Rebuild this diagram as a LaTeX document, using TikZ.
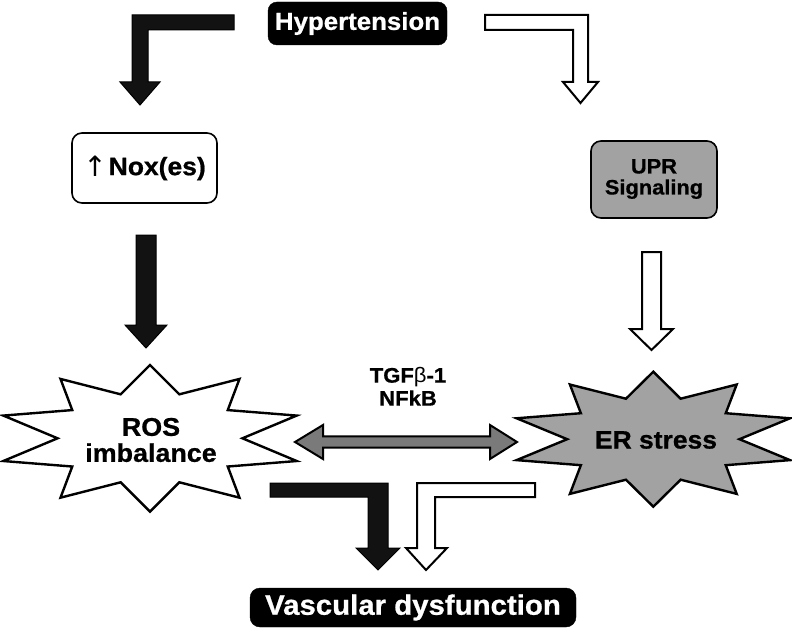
\documentclass[tikz,border=0pt]{standalone}
\usepackage{fontspec}
\setmainfont{Liberation Sans}[FakeStretch=1.05, BoldFeatures={FakeBold=0.8}]
\newfontfamily\arrowfont{DejaVu Sans}
\definecolor{boxgray}{HTML}{A2A2A2}
\definecolor{arrowgray}{HTML}{7A7A7A}
\begin{document}
\begin{tikzpicture}[x=1pt,y=-1pt,
  blackbox/.style={fill=black, draw=black, rounded corners=9pt, text=white, inner sep=0pt},
  whitebox/.style={fill=white, draw=black, line width=1.6pt, rounded corners=10pt, inner sep=0pt},
  graybox/.style={fill=boxgray, draw=black, line width=1.6pt, rounded corners=10pt, inner sep=0pt},
  blockblack/.style={fill=black!93, draw=black, line width=1pt, line join=miter},
  blockwhite/.style={fill=white, draw=black, line width=2pt, line join=miter},
  blockgray/.style={fill=arrowgray, draw=black, line width=2pt, line join=miter},
  starline/.style={draw=black, line width=2.4pt, line join=miter, miter limit=10},
  lbl/.style={font=\bfseries, align=center, inner sep=0pt},
  burst/.pic={\path[pic actions] (0,-1) -- (0.2,-0.6) -- (0.61,-0.81) -- (0.53,-0.385) -- (1,-0.31) -- (0.63,0) -- (1,0.31) -- (0.53,0.385) -- (0.61,0.81) -- (0.2,0.6) -- (0,1) -- (-0.2,0.6) -- (-0.61,0.81) -- (-0.53,0.385) -- (-1,0.31) -- (-0.63,0) -- (-1,-0.31) -- (-0.53,-0.385) -- (-0.61,-0.81) -- (-0.2,-0.6) -- cycle;}
]
\useasboundingbox (0,0) rectangle (792,631);

% boxes
\node[blackbox, minimum width=179pt, minimum height=43pt] (hyp) at (357.5,23.5)
  {\bfseries\fontsize{24.6}{28}\selectfont Hypertension};
\node[whitebox, minimum width=145pt, minimum height=70pt] (nox) at (144.5,168)
  {\raisebox{-1pt}{\arrowfont\fontsize{28}{30}\selectfont ↑}\hspace{2pt}\bfseries\fontsize{25.2}{28}\selectfont Nox(es)};
\node[graybox, minimum width=126pt, minimum height=77pt] (upr) at (654,179.5) {};
\node[lbl, font=\bfseries\fontsize{20.8}{21}\selectfont] (uprtxt) at (654,179) {UPR\\Signaling};
\node[blackbox, minimum width=326pt, minimum height=39pt, rounded corners=10pt] (vasc) at (413,607.5)
  {\bfseries\fontsize{28}{30}\selectfont Vascular dysfunction};

% starbursts
\pic[starline, fill=white, xscale=146.7, yscale=73.3] at (150,438.3) {burst};
\pic[starline, fill=boxgray, xscale=136.7, yscale=67.5] at (653.3,439.2) {burst};
\node[lbl, font=\bfseries\fontsize{25.6}{26}\selectfont] (ros) at (151,440) {ROS\\imbalance};
\node[lbl, font=\bfseries\fontsize{25.2}{26}\selectfont] (er) at (656,440) {ER stress};

% mediator label
\node[lbl, font=\bfseries\fontsize{21}{23}\selectfont] (tgf) at (408,386.5) {TGF{\mdseries β}-1\\NFkB};

% top elbow arrows
\path[blockblack] (234,15) -- (132,15) -- (132,82) -- (120,82) -- (140,105) -- (160,82) -- (148,82) -- (148,30) -- (234,30) -- cycle;
\path[blockwhite] (485,15) -- (588,15) -- (588,82) -- (598,82) -- (580.5,103) -- (563,82) -- (573,82) -- (573,30) -- (485,30) -- cycle;

% straight arrows
\path[blockblack] (136,235) -- (156,235) -- (156,325) -- (167,325) -- (146,348) -- (125,325) -- (136,325) -- cycle;
\path[blockwhite] (642,252) -- (661,252) -- (661,329) -- (673,329) -- (651.5,350) -- (630,329) -- (642,329) -- cycle;

% double arrow
\path[blockgray] (295,442) -- (323,425) -- (323,436.3) -- (490,436.3) -- (490,425) -- (517,442) -- (490,459) -- (490,447.7) -- (323,447.7) -- (323,459) -- cycle;

% bottom elbow arrows
\path[blockblack] (270,483) -- (388,483) -- (388,548) -- (400,548) -- (378,570) -- (356,548) -- (368,548) -- (368,497) -- (270,497) -- cycle;
\path[blockwhite] (535,483) -- (417,483) -- (417,548) -- (406,548) -- (426,570) -- (447,548) -- (435,548) -- (435,497) -- (535,497) -- cycle;
\end{tikzpicture}
\end{document}
